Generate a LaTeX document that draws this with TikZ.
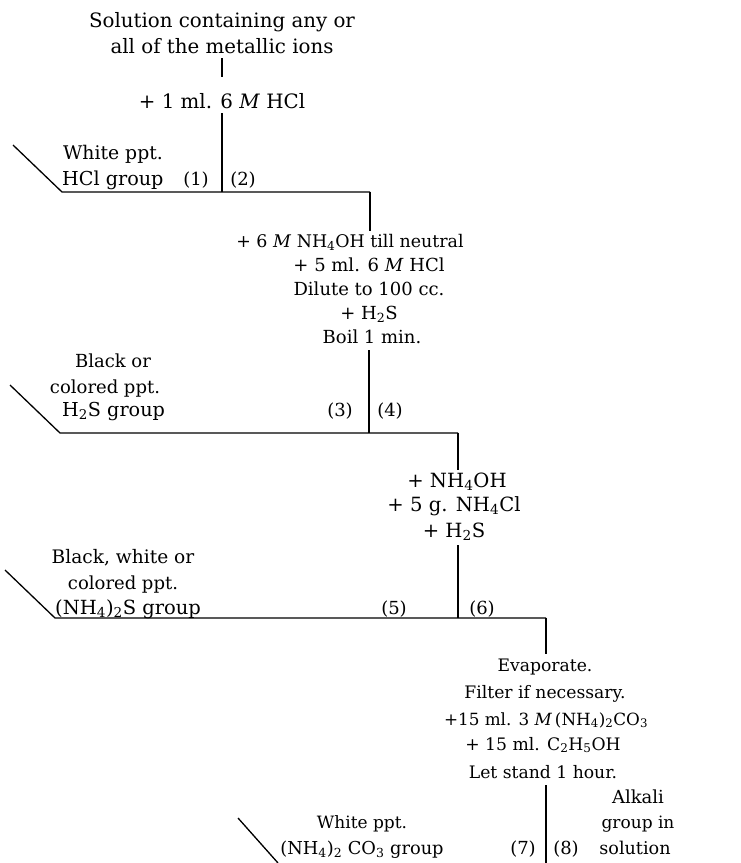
\documentclass[tikz,border=0pt]{standalone}
\usepackage{fontspec}
\setmainfont{DejaVu Serif}
\begin{document}
\begin{tikzpicture}[x=1pt,y=-1pt,
  lbl/.style={font=\fontsize{18}{22}\selectfont, inner sep=0pt, anchor=base},
  sz/.style={font=\fontsize{#1}{#1}\selectfont},
  grp/.style={font=\fontsize{19.2}{24}\selectfont, inner sep=0pt, anchor=base},
  head/.style={font=\fontsize{19.8}{24}\selectfont, inner sep=0pt, anchor=base},
  wire/.style={line width=1.3pt}]
\useasboundingbox (0,0) rectangle (741,863);

% starting solution and first reagent
\node[head] (src1) at (222,27) {Solution containing any or};
\node[head] (src2) at (222,53) {all of the metallic ions};
\node[lbl, sz=19.8] (hcl) at (222,108) {+ 1 ml. 6 \textit{M} HCl};

% HCl group split
\coordinate (s1) at (13,145);
\coordinate (l1) at (62,192);
\coordinate (j1) at (222,192);
\coordinate (r1) at (370,192);
\node[lbl, sz=18.8] (g1a) at (113,159) {White ppt.};
\node[grp, anchor=base west] (g1b) at (62,185) {HCl group};
\node[lbl] (p1) at (196,185) {(1)};
\node[lbl] (p2) at (243,185) {(2)};

% treatment of filtrate (2)
\node[lbl, sz=17.4] (b2a) at (350,247) {+ 6 \textit{M} NH\textsubscript{4}OH till neutral};
\node[lbl] (b2b) at (369,271) {+ 5 ml. 6 \textit{M} HCl};
\node[lbl] (b2c) at (369,295) {Dilute to 100 cc.};
\node[lbl] (b2d) at (369,319) {+ H\textsubscript{2}S};
\node[lbl] (b2e) at (372,343) {Boil 1 min.};

% H2S group split
\coordinate (s2) at (10,385);
\coordinate (l2) at (60,433);
\coordinate (j2) at (369,433);
\coordinate (r2) at (458,433);
\node[lbl] (g2a) at (113,367) {Black or};
\node[lbl] (g2b) at (105,393) {colored ppt.};
\node[grp, anchor=base west] (g2c) at (62,416) {H\textsubscript{2}S group};
\node[lbl] (p3) at (340,416) {(3)};
\node[lbl] (p4) at (390,416) {(4)};

% treatment of filtrate (4)
\node[lbl, sz=19.6] (b3a) at (457,487) {+ NH\textsubscript{4}OH};
\node[lbl, sz=19.6] (b3b) at (454,511) {+ 5 g. NH\textsubscript{4}Cl};
\node[lbl, sz=19.6] (b3c) at (454,537) {+ H\textsubscript{2}S};

% (NH4)2S group split
\coordinate (s3) at (5,570);
\coordinate (l3) at (55,618);
\coordinate (j3) at (458,618);
\coordinate (r3) at (546,618);
\node[lbl, sz=18.6] (g3a) at (123,563) {Black, white or};
\node[lbl] (g3b) at (123,589) {colored ppt.};
\node[grp, sz=19.5, anchor=base west] (g3c) at (55,614) {(NH\textsubscript{4})\textsubscript{2}S group};
\node[lbl] (p5) at (394,614) {(5)};
\node[lbl] (p6) at (482,614) {(6)};

% treatment of filtrate (6)
\node[lbl, sz=17.2] (b4a) at (545,671) {Evaporate.};
\node[lbl, sz=17.2] (b4b) at (545,698) {Filter if necessary.};
\node[lbl, sz=16.8] (b4c) at (546,725) {+15 ml. 3 \textit{M}\,(NH\textsubscript{4})\textsubscript{2}CO\textsubscript{3}};
\node[lbl, sz=17.2] (b4d) at (543,750) {+ 15 ml. C\textsubscript{2}H\textsubscript{5}OH};
\node[lbl, sz=17.2] (b4e) at (543,778) {Let stand 1 hour.};

% (NH4)2CO3 group split
\coordinate (s4) at (238,818);
\coordinate (e4) at (278,863);
\coordinate (j4) at (546,863);
\node[lbl, sz=17] (g4a) at (362,828) {White ppt.};
\node[grp, sz=17.8] (g4b) at (362,854) {(NH\textsubscript{4})\textsubscript{2} CO\textsubscript{3} group};
\node[lbl] (p7) at (523,854) {(7)};
\node[lbl] (p8) at (566,854) {(8)};
\node[lbl] (alk1) at (638,803) {Alkali};
\node[lbl, sz=17] (alk2) at (638,828) {group in};
\node[lbl, sz=17.6] (alk3) at (635,854) {solution};

% connectors
\draw[wire, shorten <=5pt, shorten >=16pt] (src2.south) -- (hcl.north);
\draw[wire, shorten <=5pt] (hcl.south) -- (j1);
\draw[wire] (s1) -- (l1) -- (r1);
\draw[wire, shorten >=3pt] (r1) -- (r1 |- b2a.north);
\draw[wire, shorten <=7pt] (j2 |- b2e.south) -- (j2);
\draw[wire] (s2) -- (l2) -- (r2);
\draw[wire, shorten >=2pt] (r2) -- (r2 |- b3a.north);
\draw[wire, shorten <=5pt] (j3 |- b3c.south) -- (j3);
\draw[wire] (s3) -- (l3) -- (r3);
\draw[wire, shorten >=4pt] (r3) -- (r3 |- b4a.north);
\draw[wire, shorten <=7pt] (j4 |- b4e.south) -- (j4);
\draw[wire] (s4) -- (e4);
\end{tikzpicture}
\end{document}
